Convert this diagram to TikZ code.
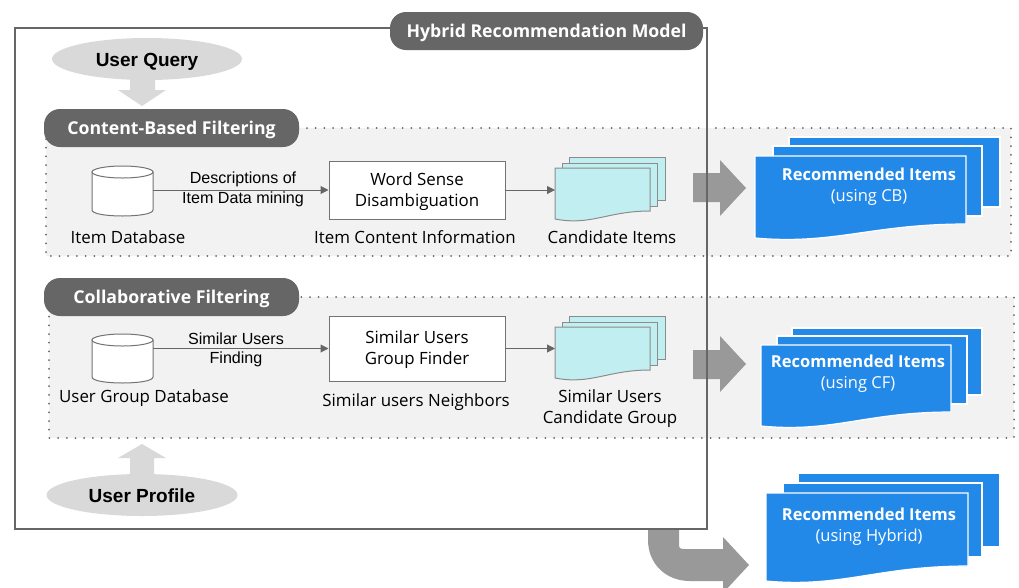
\documentclass[tikz,border=0pt]{standalone}
\usepackage{fontspec}
\setmainfont{Open Sans}
\newfontfamily\arialfont{Liberation Sans}
\usetikzlibrary{arrows.meta,shapes.geometric}
\definecolor{pillgray}{HTML}{666666}
\definecolor{panelgray}{HTML}{F2F2F2}
\definecolor{softgray}{HTML}{D9D9D9}
\definecolor{bigarrow}{HTML}{999999}
\definecolor{recblue}{HTML}{2389E9}
\definecolor{candcyan}{HTML}{C1EEF0}
\begin{document}
\begin{tikzpicture}[x=1pt,y=-1pt,
    pill/.style={fill=pillgray,text=white,rounded corners=16pt,inner sep=0pt,text height=12.5pt,text depth=0pt,
      minimum height=38pt,font=\fontsize{17.7}{21}\selectfont\bfseries},
    panel/.style={fill=panelgray},
    dots/.style={draw=black!60,line width=2pt,line cap=round,dash pattern=on 0pt off 8.7pt},
    soft/.style={fill=softgray,inner sep=0pt,text height=14pt,text depth=0pt},
    captxt/.style={font=\fontsize{16.9}{21}\selectfont,inner sep=0pt,align=center},
    lbl/.style={font=\arialfont\fontsize{16.1}{19.5}\selectfont,inner sep=0pt,align=center},
    boldtxt/.style={font=\arialfont\fontsize{19}{23}\selectfont\bfseries},
    wbox/.style={draw=black!55,fill=white,line width=1pt,inner sep=0pt,minimum width=176pt},
    dbase/.style={inner sep=0pt,minimum width=61pt},
    dbline/.style={draw=black!55,fill=white,line width=1pt},
    link/.style={draw=black!60,line width=1pt,-{Triangle[length=8pt,width=8pt]}},
    rectxt/.style={text=white,inner sep=0pt,align=center,font=\fontsize{16.5}{21}\selectfont},
    cand/.style={draw=black!45,fill=candcyan,line width=1pt},
    rec/.style={draw=white,fill=recblue,line width=1.2pt},
    bigarr/.style={fill=bigarrow}]

  \newcommand\Sheet[5]{\draw[#5] (#1,#3) rectangle (#2,#4);}
  \newcommand\Wave[6]{%
    \draw[#6] (#1,#3) -- (#2,#3) -- (#2,#4)
      .. controls ({#2-0.45*(#2-#1)},#4) and ({#1+0.38*(#2-#1)},{#5+7}) .. (#1,#5) -- cycle;}
  \newcommand\Cyl[3]{%
    \draw[dbline] (92,#2) -- (92,#3) .. controls (92,{#3+8}) and (153,{#3+8}) .. (153,#3) -- (153,#2) -- cycle;
    \draw[dbline] (122.5,#2) ellipse [x radius=30.5,y radius=6];
    \node[dbase,minimum height=#3-#2] (#1) at (122.5,{(#2+#3)/2}) {};}

  \clip (0,0) rectangle (1019,587);

  %% panels
  \fill[panel] (46,128) rectangle (1011,256);
  \draw[dots] (46,128) -- (1011,128) -- (1011,256) -- (46,256) -- cycle;
  \fill[panel] (49,297) rectangle (1014,438);
  \draw[dots] (49,297) -- (1014,297) -- (1014,438) -- (49,438) -- cycle;

  %% big arrows
  \fill[bigarr] (693,173) -- (720,173) -- (720,160) -- (746,188) -- (720,216) -- (720,202) -- (693,202) -- cycle;
  \fill[bigarr] (693,350) -- (720,350) -- (720,336) -- (746,364) -- (720,392) -- (720,379) -- (693,379) -- cycle;
  \fill[bigarr] (648,529) -- (679,529) -- (679,544) .. controls (679,548) and (680,549) .. (684,549)
    -- (723,549) -- (723,537) -- (749,565) -- (723,593) -- (723,581) -- (690,581)
    .. controls (665,581) and (648,563) .. (648,540) -- cycle;

  %% frame
  \draw[draw=black!60,line width=2pt] (15,28) rectangle (707,529);
  \node[pill,minimum width=313pt] (hybrid) at (546.5,31) {Hybrid Recommendation Model};

  %% user query and profile
  \fill[softgray] (130,78) -- (155,78) -- (155,90) -- (166,90) -- (142,106) -- (118,90) -- (130,90) -- cycle;
  \node[soft,ellipse,minimum width=190pt,minimum height=42pt,boldtxt] (query) at (147,59) {User Query};
  \fill[softgray] (130,478) -- (154,478) -- (154,458) -- (166,458) -- (142,444) -- (118,458) -- (130,458) -- cycle;
  \node[soft,ellipse,minimum width=191pt,minimum height=42pt,boldtxt] (profile) at (142,495) {User Profile};

  %% content based
  \node[pill,minimum width=255pt] (cbf) at (171.5,128) {Content-Based Filtering};
  \Cyl{itemdb}{172}{210}
  \node[wbox,minimum height=58pt] (wsd) at (417,190) {};
  \node[captxt] (wsdt) at (417,192) {Word Sense\\Disambiguation};
  \coordinate (candcb) at (555,190);
  \draw[link] (itemdb.east |- wsd) -- (wsd);
  \draw[link] (wsd) -- (candcb);
  \node[lbl] (desc1) at (243,179) {Descriptions of};
  \node[lbl] (desc2) at (243,199) {Item Data mining};
  \node[captxt] (itemdbl) at (128,237) {Item Database};
  \node[captxt] (wsdl) at (415,237) {Item Content Information};
  \node[captxt] (candl) at (612,237) {Candidate Items};
  \Sheet{569}{665}{157}{200}{cand}
  \Sheet{562}{657}{163}{206}{cand}
  \Wave{555}{650}{168}{211}{219}{cand}

  %% collaborative
  \node[pill,minimum width=255pt] (cf) at (171.5,297) {Collaborative Filtering};
  \Cyl{userdb}{340}{377}
  \node[wbox,minimum height=65pt] (finder) at (417,348.5) {};
  \node[captxt] (findert) at (417,350) {Similar Users\\Group Finder};
  \coordinate (candcf) at (555,348.5);
  \draw[link] (userdb.east |- finder) -- (finder);
  \draw[link] (finder) -- (candcf);
  \node[lbl] (sim1) at (236,339) {Similar Users};
  \node[lbl] (sim2) at (236,359) {Finding};
  \node[captxt] (userdbl) at (144,398) {User Group Database};
  \node[captxt] (finderl) at (416,402) {Similar users Neighbors};
  \node[captxt] (candcfl) at (610,408.5) {Similar Users\\Candidate Group};
  \Sheet{569}{665}{316}{359}{cand}
  \Sheet{562}{657}{322}{365}{cand}
  \Wave{555}{650}{327}{370}{378}{cand}

  %% recommended
  \Sheet{789}{1000}{137}{207}{rec}
  \Sheet{773}{982}{146}{216}{rec}
  \Wave{755}{966}{156}{224}{238}{rec}
  \node[rectxt] (reccb) at (869,187) {\textbf{Recommended Items}\\(using CB)};

  \Sheet{792}{982}{328}{395}{rec}
  \Sheet{777}{967}{336}{404}{rec}
  \Wave{761}{951}{345}{412}{426}{rec}
  \node[rectxt] (reccf) at (858,373.5) {\textbf{Recommended Items}\\(using CF)};

  \Sheet{798}{1000}{473}{547}{rec}
  \Sheet{783}{982}{483}{557}{rec}
  \Wave{766}{968}{493}{566}{581}{rec}
  \node[rectxt] (rechy) at (869,526.5) {\textbf{Recommended Items}\\(using Hybrid)};

\end{tikzpicture}
\end{document}
